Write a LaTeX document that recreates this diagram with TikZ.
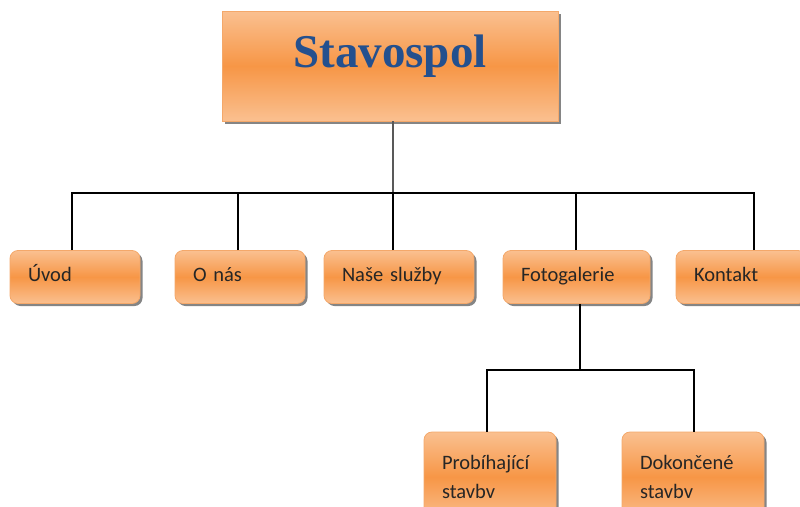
\documentclass[tikz,border=0pt]{standalone}
\usepackage{fontspec}
\setmainfont{Carlito}
\newfontfamily\titlefont{Liberation Serif}
\usetikzlibrary{shadows}
\definecolor{orMid}{HTML}{F79646}
\definecolor{orLight}{HTML}{FAC090}
\definecolor{orEdge}{HTML}{F4A86A}
\definecolor{titleBlue}{HTML}{24508E}
\tikzset{
  orbox/.style={draw=orEdge, line width=0.8pt, top color=orLight, bottom color=orLight, middle color=orMid,
    drop shadow={shadow xshift=2.5pt, shadow yshift=-2.5pt, fill=black!80, opacity=0.6},
    minimum height=53pt, inner sep=0pt},
  menubox/.style={orbox, rounded corners=8pt, align=left, font=\fontsize{20.5}{24}\selectfont, text=black!85},
  onerow/.style={text height=14pt, text depth=5pt},
  conn/.style={draw=black, line width=1.3pt}
}
\begin{document}
\begin{tikzpicture}[x=1pt,y=-1pt]
\useasboundingbox (0,0) rectangle (800,506);
\node[orbox, minimum width=336pt, minimum height=110pt, rounded corners=0pt,
  font=\titlefont\bfseries\fontsize{47}{52}\selectfont, text=titleBlue] (top) at (390,66) {\raisebox{30pt}{Stavospol}};
\node[menubox, onerow, minimum width=130pt, text width=94pt] (uvod) at (75,277) {Úvod};
\node[menubox, onerow, minimum width=130pt, text width=94pt] (onas) at (240,277) {O nás};
\node[menubox, onerow, minimum width=150pt, text width=114pt] (sluzby) at (399,277) {Naše služby};
\node[menubox, onerow, minimum width=147pt, text width=111pt] (foto) at (576.5,277) {Fotogalerie};
\node[menubox, onerow, minimum width=130pt, text width=94pt] (kontakt) at (741,277) {Kontakt};
\node[menubox, minimum width=132pt, minimum height=90pt, text width=96pt, font=\fontsize{20.5}{29}\selectfont] (prob) at (490,477) {Probíhající\\stavbv};
\node[menubox, minimum width=142pt, minimum height=90pt, text width=106pt, font=\fontsize{20.5}{29}\selectfont] (dok) at (693,477) {Dokončené\\stavbv};
\coordinate (bus) at (393,193);
\coordinate (fbus) at (580,370);
\draw[line width=1.5pt, draw=black!65] (top.south -| bus) -- (bus);
\draw[conn] (uvod.north -| 72,0) |- (bus);
\draw[conn] (onas.north -| 238,0) |- (bus);
\draw[conn] (sluzby.north -| 393,0) -- (bus);
\draw[conn] (foto.north -| 576,0) |- (bus);
\draw[conn] (kontakt.north -| 754,0) |- (bus);
\draw[conn] (foto.south -| fbus) -- (fbus);
\draw[conn] (prob.north -| 487,0) |- (fbus);
\draw[conn] (dok.north -| 694,0) |- (fbus);
\end{tikzpicture}
\end{document}
